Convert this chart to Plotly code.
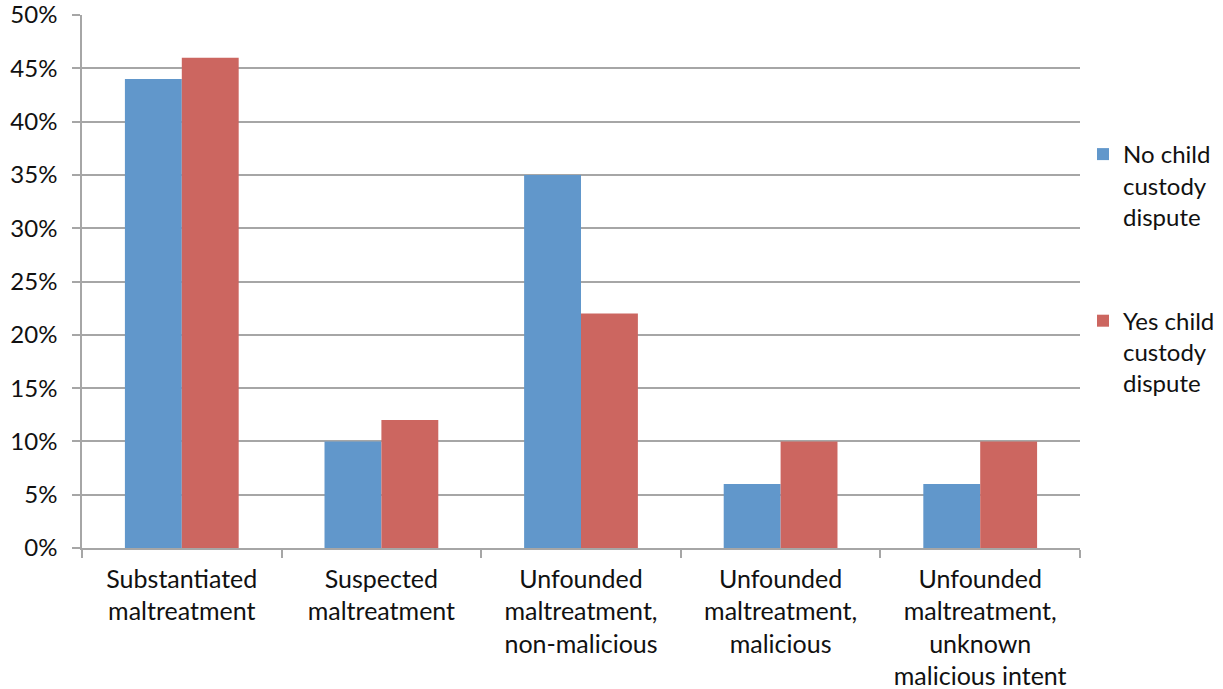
import plotly.graph_objects as go

categories = [
    "Substantiated<br>maltreatment",
    "Suspected<br>maltreatment",
    "Unfounded<br>maltreatment,<br>non-malicious",
    "Unfounded<br>maltreatment,<br>malicious",
    "Unfounded<br>maltreatment,<br>unknown<br>malicious intent",
]
no_dispute = [0.44, 0.10, 0.35, 0.06, 0.06]
yes_dispute = [0.46, 0.12, 0.22, 0.10, 0.10]
series_names = ["No child<br>custody<br>dispute", "Yes child<br>custody<br>dispute"]
y_ticks = [0, 0.05, 0.10, 0.15, 0.20, 0.25, 0.30, 0.35, 0.40, 0.45, 0.50]

FONT = "Lato, 'Open Sans', sans-serif"
GRID = "#A6A6A6"
W, H = 1223, 689
PLOT_L, PLOT_R = 82, 1080
TOP, BOTTOM = 15, 141

fig = go.Figure()
fig.add_trace(go.Bar(x=categories, y=no_dispute, name=series_names[0],
                     marker=dict(color="#6197CB", line=dict(width=0)),
                     legendgroup="a"))
fig.add_trace(go.Bar(x=categories, y=yes_dispute, name=series_names[1],
                     marker=dict(color="#CC6660", line=dict(width=0)),
                     legendgroup="b"))

fig.update_layout(
    width=W, height=H,
    margin=dict(l=PLOT_L, r=0, t=TOP, b=BOTTOM, autoexpand=False),
    paper_bgcolor="white", plot_bgcolor="white",
    barmode="group", bargap=0.43, bargroupgap=0,
    font=dict(family=FONT, size=24, color="#111111"),
    legend=dict(x=(1083 - PLOT_L) / (W - PLOT_L),
                y=(H - BOTTOM - 132) / (H - TOP - BOTTOM),
                xanchor="left", yanchor="top", valign="top",
                tracegroupgap=70, traceorder="grouped",
                font=dict(size=24), itemwidth=30),
    xaxis=dict(domain=[0, (PLOT_R - PLOT_L) / (W - PLOT_L)],
               showline=True, linecolor=GRID, linewidth=1.5,
               ticks="outside", tickson="boundaries", ticklen=8,
               tickcolor=GRID, tickwidth=1.5, showgrid=False,
               automargin=False, ticklabelstandoff=8,
               ticklabeloverflow="allow",
               tickfont=dict(size=25)),
    yaxis=dict(range=[0, 0.5], tickvals=y_ticks, tickformat=".0%",
               showline=True, linecolor=GRID, linewidth=1.5,
               ticks="outside", ticklen=8, tickcolor=GRID, tickwidth=1.5,
               showgrid=True, gridcolor=GRID, gridwidth=1.5,
               zeroline=False, automargin=False, ticklabelstandoff=10,
               ticklabeloverflow="allow",
               tickfont=dict(size=24)),
)

fig.write_html("out.html")
